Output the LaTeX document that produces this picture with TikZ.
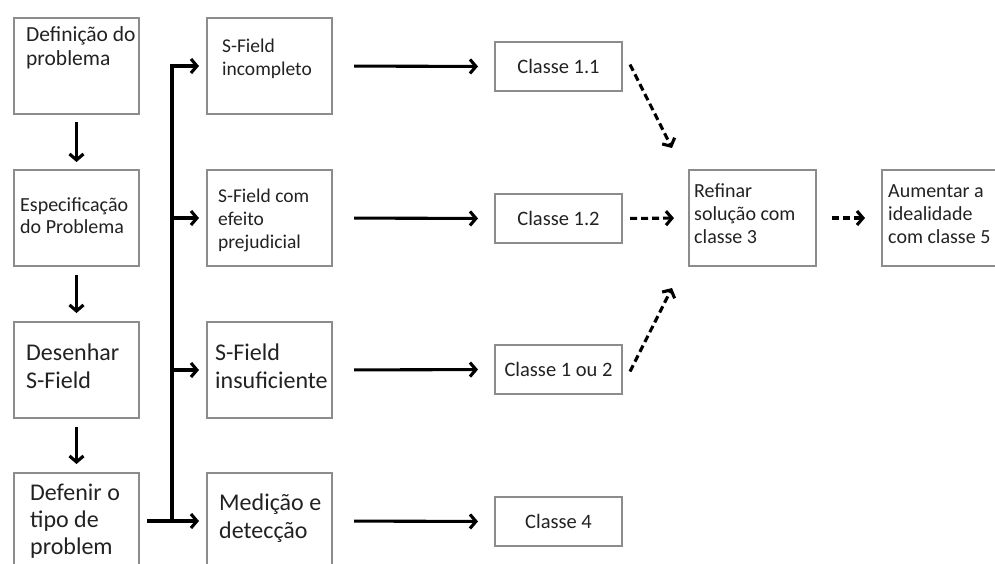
\documentclass[tikz,border=0pt]{standalone}
\usepackage{fontspec}
\setmainfont{Carlito}
\usetikzlibrary{arrows.meta}
\definecolor{boxgray}{HTML}{8C8C8C}
\definecolor{ink}{HTML}{222222}
\tikzset{
  box/.style={draw=boxgray, line width=2pt, inner sep=0pt, anchor=north west},
  bigbox/.style={box, minimum width=125pt, minimum height=96pt},
  classbox/.style={box, minimum width=127pt, minimum height=49pt,
    font=\fontsize{20.5}{24}\selectfont, text=ink},
  % text blocks are placed by the baseline of their last line
  txt/.style={anchor=base west, inner sep=0pt, align=left, text=ink},
  smalltxt/.style={txt, font=\fontsize{20}{23}\selectfont},
  largetxt/.style={txt, font=\fontsize{24}{28}\selectfont},
  conn/.style={line width=3.1pt, draw=black, -{Straight Barb[length=6pt,width=14pt]}},
  dconn/.style={conn, dash pattern=on 7pt off 4pt},
}
\begin{document}
\begin{tikzpicture}[x=1pt,y=-1pt]
\clip (0,0) rectangle (995,563);
\fill[white] (0,0) rectangle (995,563);

% left column: problem steps
\node[bigbox] (b1) at (13,17) {};
\node[bigbox] (b2) at (13,169) {};
\node[bigbox] (b3) at (13,321) {};
\node[bigbox] (b4) at (13,472) {};
\node[txt, font=\fontsize{21.5}{24}\selectfont] (t1) at (26,65) {Definição do\\problema};
\node[smalltxt, font=\fontsize{20}{22}\selectfont] (t2) at (20,233) {Especificação\\do Problema};
\node[largetxt] (t3) at (26,388) {Desenhar\\S-Field};
\node[largetxt, font=\fontsize{24}{27}\selectfont] (t4) at (30,554) {Defenir o\\tipo de\\problem};

% middle column: S-Field situations
\node[bigbox] (m1) at (206,17) {};
\node[bigbox] (m2) at (206,169) {};
\node[bigbox] (m3) at (206,321) {};
\node[bigbox] (m4) at (206,472) {};
\node[smalltxt, font=\fontsize{19.5}{23}\selectfont] (u1) at (222,75) {S-Field\\incompleto};
\node[smalltxt, font=\fontsize{19.5}{23}\selectfont] (u2) at (218,248) {S-Field com\\efeito\\prejudicial};
\node[largetxt] (u3) at (215,388) {S-Field\\insuficiente};
\node[largetxt] (u4) at (219,538) {Medição e\\detecção};

% standard-solution classes
\node[classbox] (c1) at (494,41) {Classe 1.1};
\node[classbox] (c2) at (494,193) {Classe 1.2};
\node[classbox] (c3) at (494,344) {Classe 1 ou 2};
\node[classbox] (c4) at (494,496) {Classe 4};

% refinement steps
\node[box, minimum width=127pt, minimum height=96pt] (r) at (688,169) {};
\node[box, minimum width=130pt, minimum height=96pt] (a) at (881,169) {};
\node[smalltxt] (rt) at (694,243) {Refinar\\solução com\\classe 3};
\node[smalltxt] (at) at (888,243) {Aumentar a\\idealidade\\com classe 5};

% vertical flow of the left column
\draw[conn, shorten <=7pt, shorten >=7pt] (b1.south) -- (b2.north);
\draw[conn, shorten <=8pt, shorten >=8pt] (b2.south) -- (b3.north);
\draw[conn, shorten <=8pt, shorten >=8pt] (b3.south) -- (b4.north);

% distribution bus
\coordinate (busx) at (172,0);
\draw[conn, shorten <=7pt, shorten >=7pt] (b4.east) -- (m4.west);
\draw[conn, shorten >=7pt] (m4.west -| busx) -- (m1.west -| busx) -- (m1.west);
\draw[conn, shorten >=7pt] (m2.west -| busx) -- (m2.west);
\draw[conn, shorten >=7pt] (m3.west -| busx) -- (m3.west);

% situations to classes
\draw[conn, shorten <=21pt, shorten >=16pt] (m1.east) -- (c1.west);
\draw[conn, shorten <=21pt, shorten >=16pt] (m2.east) -- (c2.west);
\draw[conn, shorten <=21pt, shorten >=16pt] (m3.east) -- (c3.west);
\draw[conn, shorten <=21pt, shorten >=16pt] (m4.east) -- (c4.west);

% classes to refinement
\coordinate (rin1) at (672,148);
\coordinate (rin3) at (672,288);
\draw[dconn] ([xshift=7pt,yshift=2pt]c1.east) -- (rin1);
\draw[dconn, shorten <=7pt, shorten >=14pt] (c2.east) -- (r.west);
\draw[dconn] ([xshift=7pt,yshift=-2pt]c3.east) -- (rin3);
\draw[dconn, shorten <=15pt, shorten >=16pt] (r.east) -- (a.west);
\end{tikzpicture}
\end{document}
